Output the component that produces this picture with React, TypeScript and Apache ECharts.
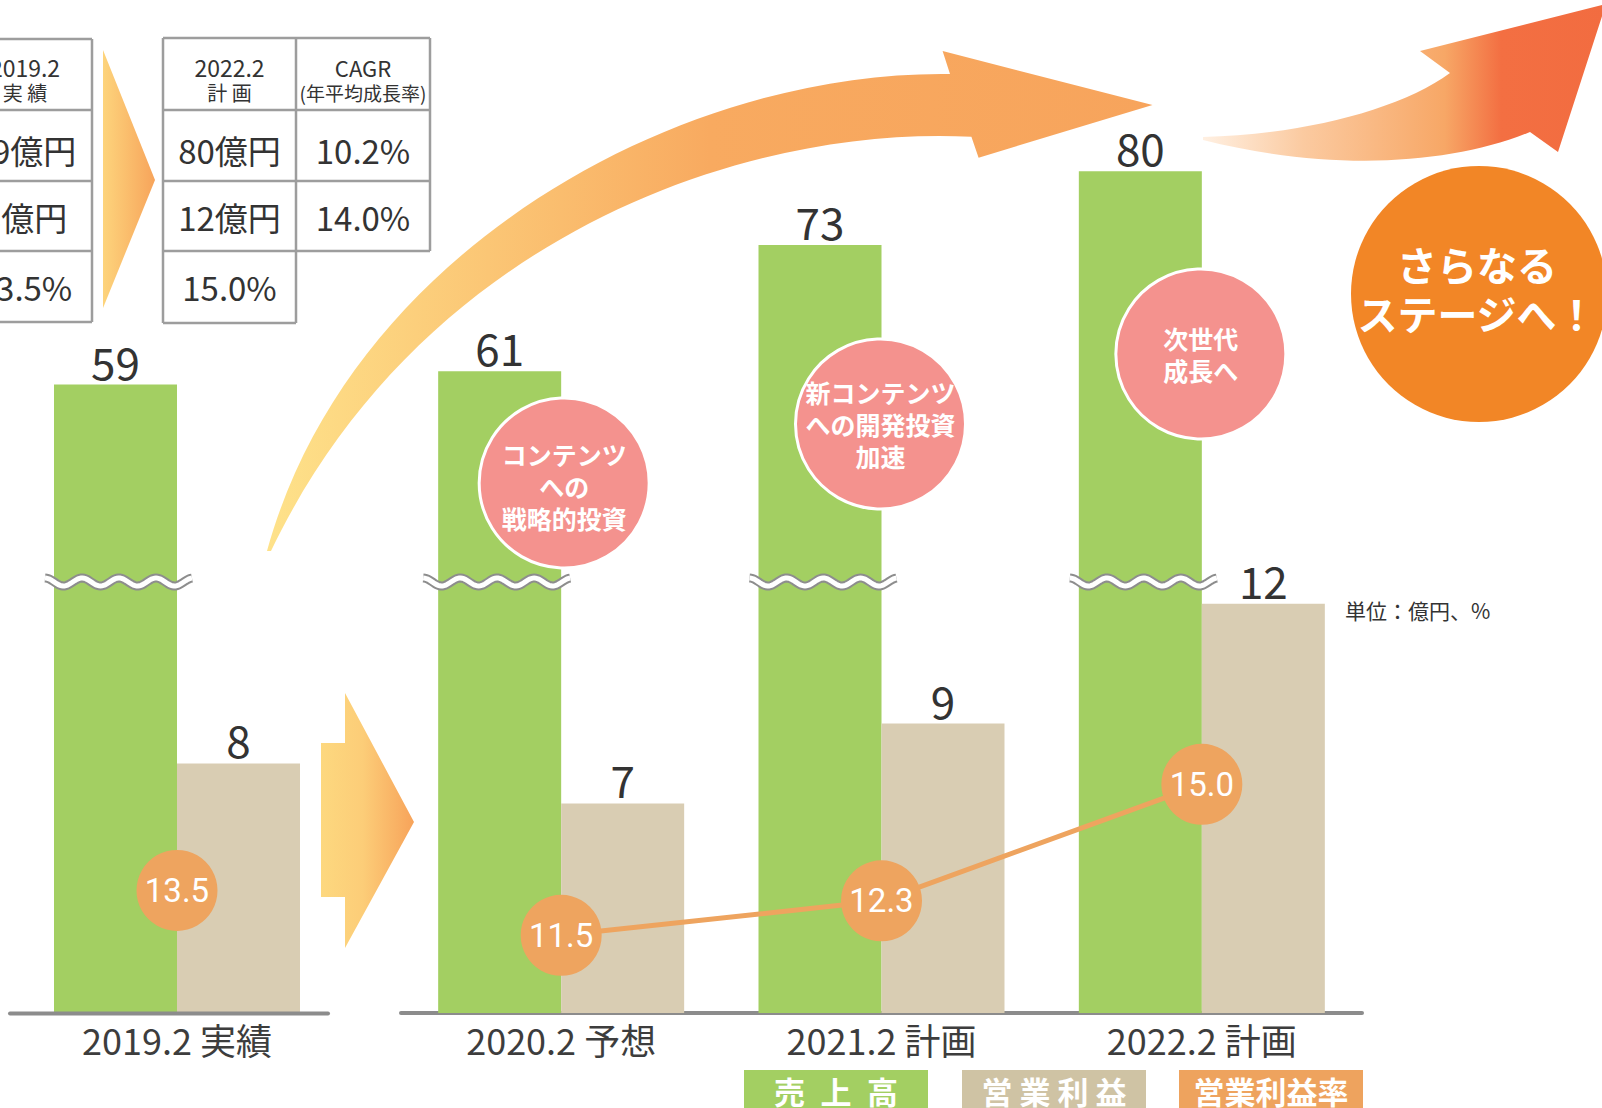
import React, { useEffect, useRef } from "react";
import * as echarts from "echarts";

// ---------- data ----------
const periods = ["2019.2 実績", "2020.2 予想", "2021.2 計画", "2022.2 計画"];
const salesValues = [59, 61, 73, 80]; // 売上高（億円）
const opIncomeValues = [8, 7, 9, 12]; // 営業利益（億円）
const opMarginValues = [13.5, 11.5, 12.3, 15.0]; // 営業利益率（%）
const cagrValues = ["10.2%", "14.0%"];
const bubbleTexts = ["コンテンツ\nへの\n戦略的投資", "新コンテンツ\nへの開発投資\n加速", "次世代\n成長へ"];
const legendNames = ["売\u2002上\u2002高", "営 業 利 益", "営業利益率"];
const unitText = "単位：億円、%";
const nextStageText = "さらなる\nステージへ！";

// ---------- styles ----------
const GREEN = "#a3cf62";
const BEIGE = "#d9cdb3";
const ORANGE = "#eea45f";
const PINK = "#f4928e";
const FONT_JP = "'Noto Sans CJK JP', sans-serif";
const FONT_NUM = "'Liberation Sans Narrow', Roboto, sans-serif";

const bigArrowPath =
  "M267 551 C350 250 680 70 950 74 L942.6 51 L1152.5 105 L978.6 157.7 L971.4 136.7 C740 125 420 240 271 551 Z";
const topArrowPath =
  "M1203 137 C1300 135 1400 110 1450 73 L1420 51 L1606 4 L1558 152 L1530 132 C1450 165 1330 172 1203 140 Z";
echarts.graphic.registerShape("bigArrow", echarts.graphic.extendPath(bigArrowPath, {}));
echarts.graphic.registerShape("topArrow", echarts.graphic.extendPath(topArrowPath, {}));

function wavePoints(x0: number, y0: number, len: number) {
  const pts: number[][] = [];
  for (let i = 0; i <= len; i += 1.5) {
    pts.push([x0 + i, y0 - 4 * Math.cos((2 * Math.PI * i) / 37)]);
  }
  return pts;
}

function txt(x: number, y: number, text: string, fontSize: number, fill = "#333", extra: any = {}) {
  return {
    type: "text",
    x,
    y,
    z: 20,
    style: {
      text,
      fill,
      fontSize,
      fontFamily: FONT_JP,
      align: "center",
      verticalAlign: "middle",
      ...extra,
    },
  };
}

function line(x1: number, y1: number, x2: number, y2: number) {
  return {
    type: "line",
    z: 20,
    shape: { x1, y1, x2, y2 },
    style: { stroke: "#9d9d9d", lineWidth: 2.5 },
  };
}

function buildGraphics(centers: number[]) {
  const g: any[] = [];
  // big curved arrow
  g.push({
    type: "bigArrow",
    x: 0,
    y: 0,
    z: 1,
    style: {
      fill: new echarts.graphic.LinearGradient(0, 0, 1, 0, [
        { offset: 0, color: "#fee28a" },
        { offset: 0.5, color: "#f8aa60" },
        { offset: 1, color: "#f7a45c" },
      ]),
    },
  });
  // top right arrow
  g.push({
    type: "topArrow",
    x: 0,
    y: 0,
    z: 1,
    style: {
      fill: new echarts.graphic.LinearGradient(0, 0, 1, 0, [
        { offset: 0, color: "#fff0e2" },
        { offset: 0.25, color: "#fbcaa0" },
        { offset: 0.6, color: "#f7a766" },
        { offset: 0.74, color: "#f36f42" },
        { offset: 1, color: "#f26c40" },
      ]),
    },
  });
  // small arrow between tables
  g.push({
    type: "polygon",
    z: 1,
    shape: { points: [[103, 50], [155, 180], [103, 308]] },
    style: {
      fill: new echarts.graphic.LinearGradient(0, 0, 1, 0, [
        { offset: 0, color: "#fdd47c" },
        { offset: 1, color: "#f7a45b" },
      ]),
    },
  });
  // middle arrow between 2019 and 2020
  g.push({
    type: "polygon",
    z: 1,
    shape: {
      points: [[321, 743], [345, 743], [345, 693], [414, 822], [345, 948], [345, 897], [321, 897]],
    },
    style: {
      fill: new echarts.graphic.LinearGradient(0, 0, 1, 0, [
        { offset: 0, color: "#fdd87f" },
        { offset: 0.45, color: "#fccd78" },
        { offset: 1, color: "#f7a35a" },
      ]),
    },
  });

  // left table (clipped at the page edge, as in the original)
  [39, 110, 181, 251, 322].forEach((y) => g.push(line(-20, y, 92, y)));
  g.push(line(92, 39, 92, 322));
  const lx = 25;
  g.push(txt(lx, 67, "2019.2", 23));
  g.push(txt(lx, 92, "実 績", 20));
  g.push(txt(lx, 150, `${salesValues[0]}億円`, 33));
  g.push(txt(lx, 217, `${opIncomeValues[0]}億円`, 33));
  g.push(txt(lx, 287, `${opMarginValues[0].toFixed(1)}%`, 33));

  // right table
  [38, 110, 181, 251].forEach((y) => g.push(line(163, y, 430, y)));
  g.push(line(163, 323, 296, 323));
  g.push(line(163, 38, 163, 323));
  g.push(line(296, 38, 296, 323));
  g.push(line(430, 38, 430, 251));
  const c1 = 229.5;
  const c2 = 363;
  g.push(txt(c1, 67, "2022.2", 23));
  g.push(txt(c1, 92, "計 画", 20));
  g.push(txt(c1, 150, `${salesValues[3]}億円`, 33));
  g.push(txt(c1, 217, `${opIncomeValues[3]}億円`, 33));
  g.push(txt(c1, 287, `${opMarginValues[3].toFixed(1)}%`, 33));
  g.push(txt(c2, 67, "CAGR", 22));
  g.push(txt(c2, 92, "(年平均成長率)", 19));
  g.push(txt(c2, 150, cagrValues[0], 33));
  g.push(txt(c2, 217, cagrValues[1], 33));

  // axis line for 2019 group
  g.push({
    type: "line",
    z: 5,
    shape: { x1: 10, y1: 1013.5, x2: 328, y2: 1013.5 },
    style: { stroke: "#8c8c8c", lineWidth: 4, lineCap: "round" },
  });

  // break marks on sales bars
  centers.forEach((c, i) => {
    const x0 = c - 123 - (i === 1 ? 15 : 9);
    const pts = wavePoints(x0, 582, 147);
    g.push({ type: "polyline", z: 15, shape: { points: pts }, style: { stroke: "#8d8d8d", lineWidth: 9, fill: null } });
    g.push({ type: "polyline", z: 16, shape: { points: pts }, style: { stroke: "#ffffff", lineWidth: 5, fill: null } });
  });

  // pink bubbles
  const bubbleY = [483, 424, 354];
  bubbleTexts.forEach((t, i) => {
    const cx = centers[i + 1] + (i === 0 ? 3 : -1);
    g.push({
      type: "circle",
      z: 18,
      shape: { cx, cy: bubbleY[i], r: 85 },
      style: { fill: PINK, stroke: "#ffffff", lineWidth: 3 },
    });
    g.push(txt(cx, bubbleY[i] + (i === 0 ? 3 : 0), t, 25, "#ffffff", { fontWeight: "bold", lineHeight: 32 }));
  });

  // big orange circle
  g.push({
    type: "circle",
    z: 18,
    shape: { cx: 1479, cy: 294, r: 128 },
    style: { fill: "#f28626" },
  });
  g.push(txt(1477, 288, nextStageText, 40, "#ffffff", { fontWeight: "bold", lineHeight: 49 }));

  // unit
  g.push(txt(1345, 610, unitText, 21, "#333", { align: "left" }));

  // legend boxes
  const legendBoxes = [
    { x: 744, w: 184, color: GREEN, size: 31 },
    { x: 962, w: 184, color: "#cfc3a4", size: 31 },
    { x: 1179, w: 184, color: "#eea35e", size: 31 },
  ];
  legendBoxes.forEach((b, i) => {
    g.push({ type: "rect", z: 20, shape: { x: b.x, y: 1070, width: b.w, height: 40 }, style: { fill: b.color } });
    g.push(txt(b.x + b.w / 2, 1090, legendNames[i], b.size, "#ffffff", { fontWeight: "bold" }));
  });
  return g;
}

const axisLabelStyle = {
  fontSize: 36,
  color: "#3d3d3d",
  fontFamily: FONT_JP,
  margin: 8,
};

const valueLabel = {
  show: true,
  position: "top",
  distance: 2,
  fontSize: 44,
  color: "#333",
  fontFamily: "'Noto Sans CJK JP', sans-serif",
};

const marginLabel = {
  show: true,
  position: "inside",
  color: "#ffffff",
  fontSize: 33,
  fontFamily: FONT_NUM,
  formatter: (p: any) => Number(p.value).toFixed(1),
};

function buildOption() {
  return {
    animation: false,
    backgroundColor: "#ffffff",
    grid: [
      { left: 26, top: 66, width: 302, height: 947 },
      { left: 401, top: 66, width: 961, height: 947 },
    ],
    xAxis: [
      {
        type: "category",
        gridIndex: 0,
        data: periods.slice(0, 1),
        axisLine: { show: false },
        axisTick: { show: false },
        axisLabel: axisLabelStyle,
      },
      {
        type: "category",
        gridIndex: 1,
        data: periods.slice(1),
        axisLine: { show: true, lineStyle: { color: "#8c8c8c", width: 4, cap: "round" } },
        axisTick: { show: false },
        axisLabel: axisLabelStyle,
      },
    ],
    yAxis: [
      { type: "value", gridIndex: 0, min: 0, max: 88.9, show: false },
      { type: "value", gridIndex: 0, min: 1.75, max: 25.47, show: false },
      { type: "value", gridIndex: 0, min: 10.66, max: 32.6, show: false },
      { type: "value", gridIndex: 1, min: 0, max: 90, show: false },
      { type: "value", gridIndex: 1, min: 1.75, max: 25.47, show: false },
      { type: "value", gridIndex: 1, min: 9.7, max: 31.65, show: false },
    ],
    series: [
      {
        name: "売上高",
        type: "bar",
        xAxisIndex: 0,
        yAxisIndex: 0,
        data: salesValues.slice(0, 1),
        barWidth: 123,
        barGap: "0%",
        itemStyle: { color: GREEN },
        label: valueLabel,
      },
      {
        name: "営業利益",
        type: "bar",
        xAxisIndex: 0,
        yAxisIndex: 1,
        data: opIncomeValues.slice(0, 1),
        barWidth: 123,
        barGap: "0%",
        itemStyle: { color: BEIGE },
        label: valueLabel,
      },
      {
        name: "営業利益率",
        type: "line",
        xAxisIndex: 0,
        yAxisIndex: 2,
        z: 6,
        data: opMarginValues.slice(0, 1),
        symbol: "circle",
        symbolSize: 81,
        itemStyle: { color: ORANGE },
        lineStyle: { color: ORANGE, width: 5 },
        label: marginLabel,
      },
      {
        name: "売上高",
        type: "bar",
        xAxisIndex: 1,
        yAxisIndex: 3,
        data: salesValues.slice(1),
        barWidth: 123,
        barGap: "0%",
        itemStyle: { color: GREEN },
        label: valueLabel,
      },
      {
        name: "営業利益",
        type: "bar",
        xAxisIndex: 1,
        yAxisIndex: 4,
        data: opIncomeValues.slice(1),
        barWidth: 123,
        barGap: "0%",
        itemStyle: { color: BEIGE },
        label: valueLabel,
      },
      {
        name: "営業利益率",
        type: "line",
        xAxisIndex: 1,
        yAxisIndex: 5,
        z: 6,
        data: opMarginValues.slice(1),
        symbol: "circle",
        symbolSize: 81,
        itemStyle: { color: ORANGE },
        lineStyle: { color: ORANGE, width: 5 },
        label: marginLabel,
      },
    ],
  };
}

export default function App() {
  const ref = useRef<HTMLDivElement>(null);
  useEffect(() => {
    if (!ref.current) return;
    const chart = echarts.init(ref.current, null, { renderer: "svg" });
    chart.setOption(buildOption() as any);
    const centers = periods.map((p, i) =>
      Number(chart.convertToPixel({ xAxisIndex: i === 0 ? 0 : 1 } as any, p))
    );
    chart.setOption({ graphic: buildGraphics(centers) } as any);
    return () => chart.dispose();
  }, []);
  return (
    <div
      ref={ref}
      style={{ position: "fixed", left: 0, top: 0, width: 1602, height: 1108, background: "#fff" }}
    />
  );
}
